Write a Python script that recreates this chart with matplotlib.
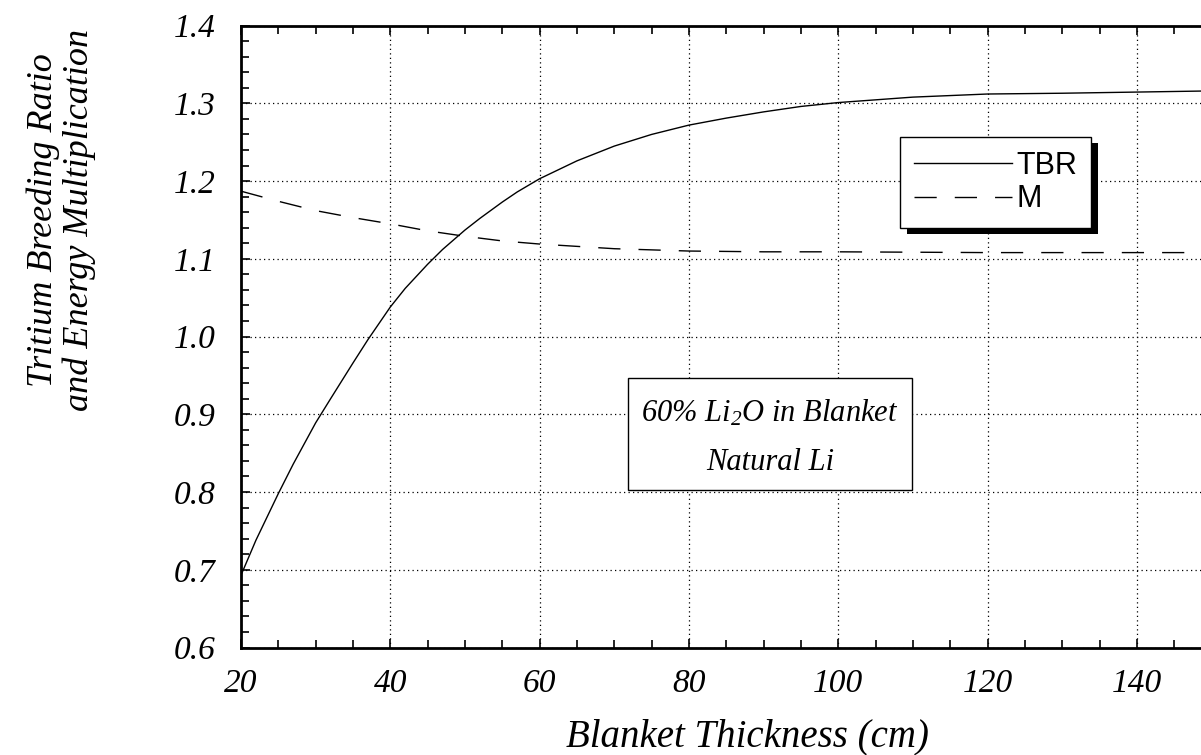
import matplotlib
matplotlib.use("Agg")
import matplotlib.pyplot as plt
import matplotlib.patheffects as pe
from matplotlib.patches import Rectangle
from matplotlib.ticker import MultipleLocator, FixedLocator

# Blanket thickness (cm) and tritium breeding ratio
thickness_tbr = [20, 22, 25, 27, 30, 32, 35, 37, 40, 42, 45, 47, 50, 52, 55, 57,
                 60, 65, 70, 75, 80, 85, 90, 95, 100, 110, 120, 130, 140, 150]
tbr = [0.693, 0.738, 0.798, 0.836, 0.889, 0.920, 0.966, 0.996, 1.038, 1.062,
       1.093, 1.112, 1.137, 1.152, 1.173, 1.186, 1.203, 1.226, 1.245, 1.260,
       1.272, 1.281, 1.289, 1.296, 1.301, 1.308, 1.312, 1.313, 1.3145, 1.316]

# Blanket thickness (cm) and energy multiplication
thickness_m = [20, 25, 30, 35, 40, 45, 50, 55, 60, 70, 80, 90, 100, 120, 140, 150]
mult = [1.187, 1.174, 1.162, 1.153, 1.145, 1.136, 1.129, 1.123, 1.119, 1.113,
        1.110, 1.109, 1.109, 1.108, 1.108, 1.108]

x_ticks = [20, 40, 60, 80, 100, 120, 140]
y_ticks = [0.6, 0.7, 0.8, 0.9, 1.0, 1.1, 1.2, 1.3, 1.4]
y_tick_labels = ["0.6", "0.7", "0.8", "0.9", "1.0", "1.1", "1.2", "1.3", "1.4"]

serif = "Liberation Serif"
plt.rcParams["mathtext.fontset"] = "custom"
plt.rcParams["mathtext.rm"] = "Liberation Serif:italic"
plt.rcParams["mathtext.it"] = "Liberation Serif:italic"

W, H = 1201, 755
fig = plt.figure(figsize=(W / 100, H / 100), dpi=100)
x0, x1, y0, y1 = 241, 1211.5, 25.6, 647.5
ax = fig.add_axes([x0 / W, 1 - y1 / H, (x1 - x0) / W, (y1 - y0) / H])

ax.plot(thickness_tbr, tbr, color="black", lw=1.0, label="TBR")
ax.plot(thickness_m, mult, color="black", lw=1.0, dashes=(16, 13), label="M")

ax.set_xlim(20, 150)
ax.set_ylim(0.6, 1.4)

ax.xaxis.set_major_locator(FixedLocator(x_ticks))
ax.xaxis.set_minor_locator(MultipleLocator(5))
ax.yaxis.set_major_locator(FixedLocator(y_ticks))
ax.yaxis.set_minor_locator(MultipleLocator(0.02))
ax.set_yticklabels(y_tick_labels)

ax.tick_params(which="both", direction="in", top=True, right=False,
               width=1.2, color="black")
ax.tick_params(which="major", length=6.5)
ax.tick_params(which="minor", length=5.5)
ax.tick_params(axis="x", which="major", pad=15)
ax.tick_params(axis="y", which="major", pad=18)

for lab in ax.get_xticklabels() + ax.get_yticklabels():
    lab.set_fontfamily(serif)
    lab.set_fontstyle("italic")
    lab.set_fontsize(24)

for side in ["left", "top", "bottom"]:
    ax.spines[side].set_linewidth(2.0)
ax.spines["right"].set_visible(False)

ax.grid(True, which="major", color="black", lw=0.9, linestyle=(0, (1, 2.6)))

ax.set_xlabel("Blanket Thickness (cm)", fontfamily=serif, fontstyle="italic",
              fontsize=28)
ax.xaxis.label.set_va("center")
ax.xaxis.set_label_coords((748 - x0) / (x1 - x0), -(737 - y1) / (y1 - y0))

fig.text(0.0512, 1 - 220 / H, "Tritium Breeding Ratio\nand Energy Multiplication",
         rotation=90, ha="center", va="center", fontfamily=serif,
         fontstyle="italic", fontsize=26, linespacing=1.1)

leg = ax.legend(loc="upper left",
                bbox_to_anchor=((900 - x0) / (x1 - x0), (y1 - 137) / (y1 - y0)),
                borderaxespad=0, fancybox=False, edgecolor="black",
                framealpha=1, prop={"family": "Liberation Sans", "size": 22},
                handlelength=3.2, handletextpad=0.15, labelspacing=0.12,
                borderpad=0.45)
leg.get_frame().set_linewidth(1.0)
leg.get_frame().set_path_effects([
    pe.SimplePatchShadow(offset=(5, -4), shadow_rgbFace="black", alpha=1.0),
    pe.Normal()])

# Annotation box describing the blanket composition
ax.add_patch(Rectangle((0.3988, 0.2533), 0.6914 - 0.3988, 0.4333 - 0.2533,
                       transform=ax.transAxes, facecolor="white",
                       edgecolor="black", lw=1.0, zorder=4))
ax.text(0.545, 0.377, r"60% Li$_2$O in Blanket", transform=ax.transAxes,
        ha="center", va="center", fontfamily=serif, fontstyle="italic",
        fontsize=22, zorder=5)
ax.text(0.545, 0.298, "Natural Li", transform=ax.transAxes,
        ha="center", va="center", fontfamily=serif, fontstyle="italic",
        fontsize=22, zorder=5)

fig.savefig("out.png", dpi=100)
